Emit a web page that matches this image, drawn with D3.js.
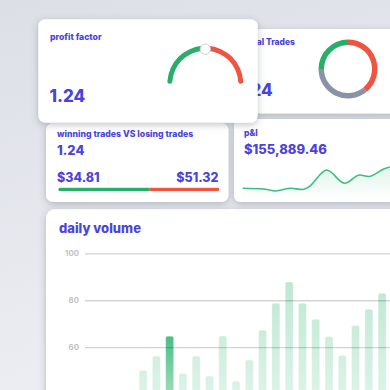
<!DOCTYPE html>
<html><head><meta charset="utf-8">
<script src="https://cdn.jsdelivr.net/npm/d3@7"></script>
<style>html,body{margin:0;padding:0;background:#e6e9ef;overflow:hidden}svg{display:block}text{font-family:Inter,"Noto Sans",sans-serif}</style>
</head><body><svg id="c" width="390" height="390"></svg>
<script>
// ---- data ----
const profitFactor = "1.24";
const gaugeParts = [ {name:"win", value:50, color:"#27ae68"}, {name:"loss", value:50, color:"#ef5440"} ];
const totalTrades = "1.24";
const tradeParts = [ {name:"loss", value:39, color:"#ef5440"}, {name:"neutral", value:36, color:"#8a93a6"}, {name:"win", value:25, color:"#27ae68"} ];
const winLossRatio = "1.24";
const avgWin = "$34.81";
const avgLoss = "$51.32";
const winShare = 56.5;
const pnlTotal = "$155,889.46";
const pnlDays = [0, 7, 11, 16, 20, 22, 28, 34, 39, 42, 47, 51];
const pnlValues = [6.7, 6.0, 4.0, 6.8, 5.5, 8.0, 25.0, 11.7, 20.0, 18.5, 26.0, 29.5];
const volumeDays = d3.range(1, 24).map(String);
const volumeData = [
  {day:"5", v:50.2},{day:"6", v:56.2},{day:"7", v:64.7, hi:true},{day:"8", v:48.8},{day:"9", v:56.2},
  {day:"10", v:47.7},{day:"11", v:64.8},{day:"12", v:45.5},{day:"13", v:54.5},{day:"14", v:67.2},
  {day:"15", v:78.7},{day:"16", v:87.8},{day:"17", v:78.7},{day:"18", v:71.9},{day:"19", v:64.5},
  {day:"20", v:56.5},{day:"21", v:69.2},{day:"22", v:76.2},{day:"23", v:83.0}
];
const volumeTicks = [60, 80, 100];

const svg = d3.select("#c");
const defs = svg.append("defs");
const bg = defs.append("linearGradient").attr("id","bg").attr("x1",0).attr("y1",0).attr("x2",0.3).attr("y2",1);
bg.append("stop").attr("offset",0).attr("stop-color","#dcdfe6");
bg.append("stop").attr("offset",1).attr("stop-color","#eceef3");
const f = defs.append("filter").attr("id","sh").attr("x","-30%").attr("y","-30%").attr("width","160%").attr("height","170%");
f.append("feDropShadow").attr("dx",0).attr("dy",2).attr("stdDeviation",3.5).attr("flood-color","#4a5060").attr("flood-opacity",0.34);

svg.append("rect").attr("width",390).attr("height",390).attr("fill","url(#bg)");

const TXT = "#4a43dd";
function card(x,y,w,h,r){ return svg.append("rect").attr("x",x).attr("y",y).attr("width",w).attr("height",h).attr("rx",r).attr("fill","#fff").attr("filter","url(#sh)"); }

// ---- card 5 daily volume ----
card(46,209,380,220,9);
svg.append("text").attr("x",59).attr("y",232.5).attr("fill",TXT).attr("font-size",13).attr("font-weight",800).text("daily volume");
const vx = d3.scaleBand().domain(volumeDays).range([85, 387.1]).paddingInner(0.4).paddingOuter(0.075);
const vy = d3.scaleLinear().domain([0,100]).range([488, 253.3]);
const g1 = defs.append("linearGradient").attr("id","barL").attr("gradientUnits","userSpaceOnUse").attr("x1",0).attr("x2",0).attr("y1",vy(88)).attr("y2",vy(0));
g1.append("stop").attr("offset",0).attr("stop-color","#3dbb7c").attr("stop-opacity",0.34);
g1.append("stop").attr("offset",1).attr("stop-color","#3dbb7c").attr("stop-opacity",0.04);
const g2 = defs.append("linearGradient").attr("id","barD").attr("gradientUnits","userSpaceOnUse").attr("x1",0).attr("x2",0).attr("y1",vy(65)).attr("y2",vy(20));
g2.append("stop").attr("offset",0).attr("stop-color","#3dbb7c").attr("stop-opacity",0.95);
g2.append("stop").attr("offset",1).attr("stop-color","#3dbb7c").attr("stop-opacity",0.15);
const clipV = defs.append("clipPath").attr("id","cv"); clipV.append("rect").attr("x",46).attr("y",209).attr("width",380).attr("height",220).attr("rx",9);
const vg = svg.append("g").attr("clip-path","url(#cv)");
vg.selectAll("rect.bar").data(volumeData).join("rect").attr("class","bar")
  .attr("x",d=>vx(d.day)).attr("width",vx.bandwidth()).attr("y",d=>vy(d.v)).attr("height",d=>vy(0)-vy(d.v)).attr("rx",2)
  .attr("fill",d=>d.hi?"url(#barD)":"url(#barL)").attr("stroke","rgba(255,255,255,0.5)").attr("stroke-width",0.6);
const ax = vg.append("g").attr("transform","translate(85,0)").call(d3.axisLeft(vy).tickValues(volumeTicks).tickSize(-330).tickPadding(6));
ax.select(".domain").remove();
ax.selectAll(".tick line").attr("stroke","rgba(0,0,0,0.17)").attr("stroke-width",1.3);
ax.selectAll(".tick text").attr("fill","#bdbdbd").attr("font-size",8).attr("font-weight",600).attr("font-family","Inter");

// ---- card 2 total trades ----
card(234,29,170,84.5,6);
svg.append("text").attr("x",243).attr("y",45).attr("fill",TXT).attr("font-size",8.5).attr("font-weight",800).text("Total Trades");
svg.append("text").attr("x",237).attr("y",95.7).attr("fill",TXT).attr("font-size",17).attr("font-weight",800).text(totalTrades);
const pie = d3.pie().sort(null).value(d=>d.value);
const darc = d3.arc().innerRadius(24).outerRadius(29.5);
svg.append("g").attr("transform","translate(348,69)").selectAll("path").data(pie(tradeParts)).join("path").attr("d",darc).attr("fill",d=>d.data.color);

// ---- card 4 p&l ----
card(234,119,170,83,6);
svg.append("text").attr("x",244).attr("y",135.7).attr("fill",TXT).attr("font-size",8.5).attr("font-weight",800).text("p&l");
svg.append("text").attr("x",244).attr("y",154.3).attr("fill",TXT).attr("font-size",13).attr("font-weight",800).text(pnlTotal);
const px = d3.scaleLinear().domain([0,50]).range([242.7, 392.7]);
const py = d3.scaleLinear().domain([0,30]).range([195,165]);
const pts = pnlDays.map((d,i)=>[d,pnlValues[i]]);
const ga = defs.append("linearGradient").attr("id","area").attr("x1",0).attr("x2",0).attr("y1",0).attr("y2",1);
ga.append("stop").attr("offset",0).attr("stop-color","#3dbb7c").attr("stop-opacity",0.16);
ga.append("stop").attr("offset",1).attr("stop-color","#3dbb7c").attr("stop-opacity",0);
svg.append("path").datum(pts).attr("d",d3.area().x(d=>px(d[0])).y0(200).y1(d=>py(d[1])).curve(d3.curveMonotoneX)).attr("fill","url(#area)");
svg.append("path").datum(pts).attr("d",d3.line().x(d=>px(d[0])).y(d=>py(d[1])).curve(d3.curveMonotoneX)).attr("fill","none").attr("stroke","#3cbf7e").attr("stroke-width",1.6);

// ---- card 3 winning vs losing ----
card(46,123,182.5,79,7);
svg.append("text").attr("x",57).attr("y",136.7).attr("fill",TXT).attr("font-size",8.7).attr("font-weight",800).text("winning trades VS losing trades");
svg.append("text").attr("x",57).attr("y",155).attr("fill",TXT).attr("font-size",13).attr("font-weight",800).text(winLossRatio);
svg.append("text").attr("x",57).attr("y",182.3).attr("fill",TXT).attr("font-size",12.5).attr("font-weight",800).text(avgWin);
svg.append("text").attr("x",218.5).attr("y",182.3).attr("text-anchor","end").attr("fill",TXT).attr("font-size",12.5).attr("font-weight",800).text(avgLoss);
const wx = d3.scaleLinear().domain([0,100]).range([58.3, 219.3]);
const clipW = defs.append("clipPath").attr("id","cw"); clipW.append("rect").attr("x",wx(0)).attr("y",187.6).attr("width",wx(100)-wx(0)).attr("height",3.6).attr("rx",1.8);
const wg = svg.append("g").attr("clip-path","url(#cw)");
wg.append("rect").attr("x",wx(0)).attr("y",187.6).attr("width",wx(winShare)-wx(0)).attr("height",3.6).attr("fill","#27ae68");
wg.append("rect").attr("x",wx(winShare)).attr("y",187.6).attr("width",wx(100)-wx(winShare)).attr("height",3.6).attr("fill","#ef5440");

// ---- card 1 profit factor ----
card(38.3,19.3,219.4,103.4,7);
svg.append("text").attr("x",50).attr("y",40).attr("fill",TXT).attr("font-size",8.7).attr("font-weight",800).text("profit factor");
svg.append("text").attr("x",49.5).attr("y",101.7).attr("fill",TXT).attr("font-size",17).attr("font-weight",800).text(profitFactor);
const gpie = d3.pie().sort(null).value(d=>d.value).startAngle(-Math.PI/2).endAngle(Math.PI/2);
const garc = d3.arc().innerRadius(33).outerRadius(38).cornerRadius(2.5);
const gg = svg.append("g").attr("transform","translate(205.3,83.7)");
gg.selectAll("path").data(gpie(gaugeParts)).join("path").attr("d",garc).attr("fill",d=>d.data.color);
const knobA = gpie(gaugeParts)[0].endAngle;
gg.append("circle").attr("cx",35.5*Math.sin(knobA)).attr("cy",-35.5*Math.cos(knobA)+1).attr("r",5.2).attr("fill","#fff").attr("stroke","#c9ccd3").attr("stroke-width",0.9);
</script></body></html>
